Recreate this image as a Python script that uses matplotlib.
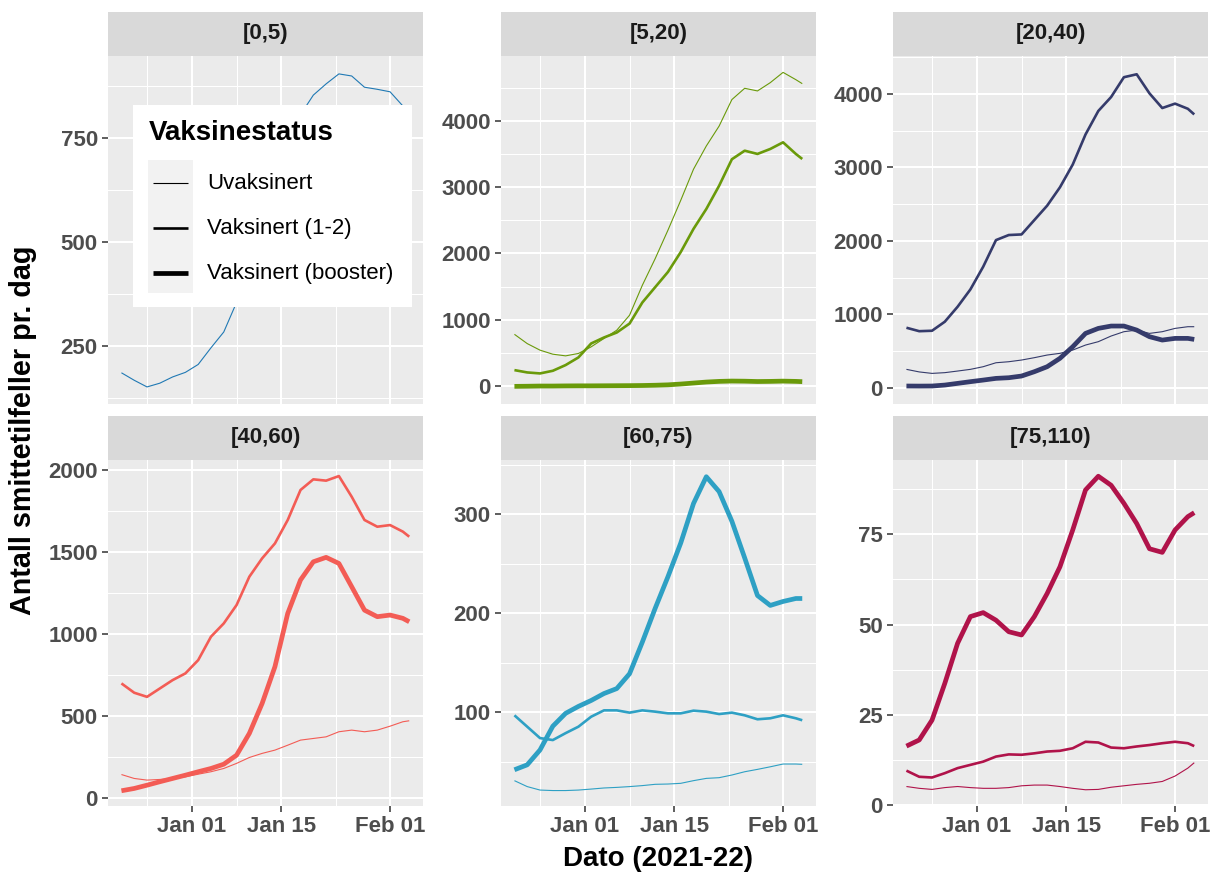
import numpy as np
import matplotlib
matplotlib.use("Agg")
import matplotlib.pyplot as plt
import matplotlib.dates as mdates
from matplotlib.patches import Rectangle

plt.rcParams["font.family"] = ["Liberation Sans", "DejaVu Sans"]

# ---- data: smoothed daily cases per age group and vaccination status ----
DATES = np.array(["2021-12-21", "2021-12-23", "2021-12-25", "2021-12-27", "2021-12-29",
                  "2021-12-31", "2022-01-02", "2022-01-04", "2022-01-06", "2022-01-08",
                  "2022-01-10", "2022-01-12", "2022-01-14", "2022-01-16", "2022-01-18",
                  "2022-01-20", "2022-01-22", "2022-01-24", "2022-01-26", "2022-01-28",
                  "2022-01-30", "2022-02-01", "2022-02-03", "2022-02-04"], dtype="datetime64[D]")

GROUPS = ["[0,5)", "[5,20)", "[20,40)", "[40,60)", "[60,75)", "[75,110)"]
STATUS = ["Uvaksinert", "Vaksinert (1-2)", "Vaksinert (booster)"]
COLORS = ["#2079b4", "#6a9a0a", "#353b6b", "#f35c55", "#2ea0c4", "#b0134a"]
LWS = [0.8, 1.9, 3.4]

A0_UVAKS = [185, 167, 151, 160, 175, 186, 205, 245, 283, 354, 450, 550, 650, 740, 805,
            852, 879, 903, 898, 871, 866, 860, 826, 810]

A5_UVAKS = [780, 640, 541, 480, 455, 491, 591, 717, 842, 1068, 1520, 1920, 2350, 2800, 3270,
            3620, 3920, 4320, 4490, 4450, 4575, 4730, 4620, 4560]
A5_VAKS12 = [240, 205, 190, 230, 316, 431, 642, 732, 807, 942, 1260, 1490, 1720, 2020, 2370,
             2670, 3020, 3420, 3549, 3500, 3575, 3675, 3500, 3424]
A5_BOOST = [-5, -3, 0, 0, 2, 3, 3, 4, 5, 6, 8, 12, 18, 30, 45, 60, 70, 75, 73, 68, 70, 74, 70, 66]

A20_UVAKS = [250, 215, 195, 205, 227, 250, 286, 340, 354, 377, 409, 445, 468, 513, 581, 627,
             704, 763, 785, 740, 763, 808, 831, 831]
A20_VAKS12 = [817, 770, 776, 899, 1103, 1339, 1648, 2011, 2080, 2088, 2284, 2480, 2730, 3040,
              3450, 3770, 3960, 4230, 4270, 4010, 3810, 3870, 3800, 3723]
A20_BOOST = [23, 22, 23, 36, 59, 82, 104, 127, 136, 159, 218, 286, 400, 558, 740, 808, 840,
             840, 785, 695, 649, 672, 672, 658]

A40_UVAKS = [142, 118, 108, 112, 118, 128, 144, 159, 179, 210, 246, 271, 291, 321, 352, 362,
             372, 403, 413, 403, 413, 437, 464, 470]
A40_VAKS12 = [698, 641, 616, 667, 718, 759, 840, 983, 1064, 1176, 1349, 1461, 1552, 1695,
              1878, 1943, 1935, 1963, 1837, 1695, 1654, 1664, 1624, 1593]
A40_BOOST = [43, 57, 77, 98, 118, 138, 159, 179, 205, 260, 393, 576, 800, 1125, 1329, 1440,
             1467, 1430, 1288, 1145, 1105, 1115, 1095, 1074]

A60_UVAKS = [31, 25, 21.5, 21, 21, 21.5, 22.5, 23.6, 24.2, 25, 26, 27.3, 27.6, 28.3, 31, 33.3,
             34, 36.7, 40, 42.4, 45, 47.8, 47.8, 47.5]
A60_VAKS12 = [97, 85.5, 74, 72, 79, 85.5, 95.6, 102, 102, 99.7, 102, 100.7, 99, 99, 101.7,
              100.7, 98.3, 99.7, 97, 93, 94, 97, 94, 92]
A60_BOOST = [42, 47, 62, 86, 99, 106, 112, 119, 124, 139, 171, 205, 237, 271, 311, 338, 323,
             293, 256, 218, 208, 212, 215, 215]

A75_UVAKS = [5.1, 4.6, 4.3, 4.8, 5.1, 4.8, 4.6, 4.6, 4.8, 5.3, 5.5, 5.5, 5.1, 4.6, 4.2, 4.3,
             4.9, 5.3, 5.7, 6.0, 6.5, 8.0, 10.2, 11.7]
A75_VAKS12 = [9.5, 7.8, 7.6, 8.8, 10.2, 11.1, 12.0, 13.4, 14, 13.9, 14.3, 14.8, 15.0, 15.7,
              17.5, 17.3, 15.9, 15.7, 16.2, 16.6, 17.1, 17.5, 17.1, 16.3]
A75_BOOST = [16.3, 18, 23.5, 33.7, 44.8, 52.2, 53.3, 51.2, 48, 47.1, 52.2, 58.6, 66, 76.2,
             87.3, 91.1, 88.6, 83.6, 78.0, 71.0, 70.0, 76.2, 79.9, 81]

SERIES = [[A0_UVAKS, None, None],
          [A5_UVAKS, A5_VAKS12, A5_BOOST],
          [A20_UVAKS, A20_VAKS12, A20_BOOST],
          [A40_UVAKS, A40_VAKS12, A40_BOOST],
          [A60_UVAKS, A60_VAKS12, A60_BOOST],
          [A75_UVAKS, A75_VAKS12, A75_BOOST]]

YTICKS = [[250, 500, 750], [0, 1000, 2000, 3000, 4000], [0, 1000, 2000, 3000, 4000],
          [0, 500, 1000, 1500, 2000], [100, 200, 300], [0, 25, 50, 75]]
YLIMS = [(110, 946), (-271, 4977), (-222, 4519), (-50, 2061), (5.4, 354.9), (-0.3, 95.6)]

XTICKS = np.array(["2022-01-01", "2022-01-15", "2022-02-01"], dtype="datetime64[D]")

# ---- layout (pixels) ----
W, H = 1211, 873
PX = [108, 501, 893]
PW = 315
ROWS = [(12, 56, 404), (416, 460, 806)]  # strip top, plot top, plot bottom


def rect(x0, y0, x1, y1):
    return [x0 / W, 1 - y1 / H, (x1 - x0) / W, (y1 - y0) / H]


fig = plt.figure(figsize=(W / 100, H / 100), dpi=100)

jan1 = mdates.date2num(np.datetime64("2022-01-01"))
xlim = (jan1 - 13.1, jan1 + 36.15)
xmaj = mdates.date2num(XTICKS)
xmin = np.r_[jan1 - 7, (xmaj[:-1] + xmaj[1:]) / 2]
xd = mdates.date2num(DATES)

for i, g in enumerate(GROUPS):
    r, c = divmod(i, 3)
    st, pt, pb = ROWS[r]
    ax = fig.add_axes(rect(PX[c], pt, PX[c] + PW, pb))
    ax.set_facecolor("#ebebeb")
    for s in ax.spines.values():
        s.set_visible(False)
    ax.set_xlim(*xlim)
    ax.set_ylim(*YLIMS[i])

    yt = np.array(YTICKS[i], dtype=float)
    step = yt[1] - yt[0]
    ym = np.r_[yt[0] - step / 2, yt + step / 2]
    ym = ym[(ym > YLIMS[i][0]) & (ym < YLIMS[i][1])]
    ax.set_yticks(yt)
    ax.set_yticklabels([f"{v:g}" for v in yt])
    ax.set_yticks(ym, minor=True)
    ax.set_xticks(xmaj)
    ax.set_xticklabels([mdates.num2date(v).strftime("%b %d") for v in xmaj])
    ax.set_xticks(xmin, minor=True)

    ax.grid(which="major", color="white", lw=1.5)
    ax.grid(which="minor", color="white", lw=0.75)
    ax.set_axisbelow(True)
    ax.tick_params(which="minor", length=0)
    ax.tick_params(which="major", length=4.3, width=1.1, color="#333333",
                   labelsize=16, labelcolor="#4d4d4d", pad=3)
    if r == 0:
        ax.tick_params(axis="x", which="major", length=0, labelbottom=False)
    for lab in ax.get_xticklabels() + ax.get_yticklabels():
        lab.set_fontweight("bold")

    for k, ys in enumerate(SERIES[i]):
        if ys is None:
            continue
        ax.plot(xd, ys, color=COLORS[i], lw=LWS[k], solid_capstyle="butt",
                solid_joinstyle="round", zorder=3)

    sax = fig.add_axes(rect(PX[c], st, PX[c] + PW, pt))
    sax.set_facecolor("#d9d9d9")
    sax.set_xticks([]); sax.set_yticks([])
    for s in sax.spines.values():
        s.set_visible(False)
    sax.text(0.5, 0.5, g, ha="center", va="center", fontsize=16, fontweight="bold",
             color="#1a1a1a", transform=sax.transAxes)

# ---- legend drawn inside the first panel ----
lax = fig.add_axes(rect(133, 105, 412, 307), zorder=10)
lax.set_xlim(133, 412); lax.set_ylim(307, 105)
lax.set_facecolor("white")
lax.set_xticks([]); lax.set_yticks([])
for s in lax.spines.values():
    s.set_visible(False)
lax.text(149, 133, "Vaksinestatus", fontsize=20, fontweight="bold", color="black",
         ha="left", va="center")
lax.add_patch(Rectangle((148, 160), 45, 133, facecolor="#f2f2f2", edgecolor="none"))
for k, (lab, lw) in enumerate(zip(STATUS, LWS)):
    yy = 183 + 45 * k
    lax.plot([153, 188], [yy, yy], color="black", lw=lw, solid_capstyle="butt")
    lax.text(207, yy, lab, fontsize=16, color="black", ha="left", va="center")

fig.text(23 / W, 1 - 430 / H, "Antall smittetilfeller pr. dag", rotation=90, ha="center",
         va="center", fontsize=20.7, fontweight="bold")
fig.text(658 / W, 1 - 859 / H, "Dato (2021-22)", ha="center", va="center", fontsize=20,
         fontweight="bold")

fig.savefig("out.png", dpi=100, facecolor="white")
